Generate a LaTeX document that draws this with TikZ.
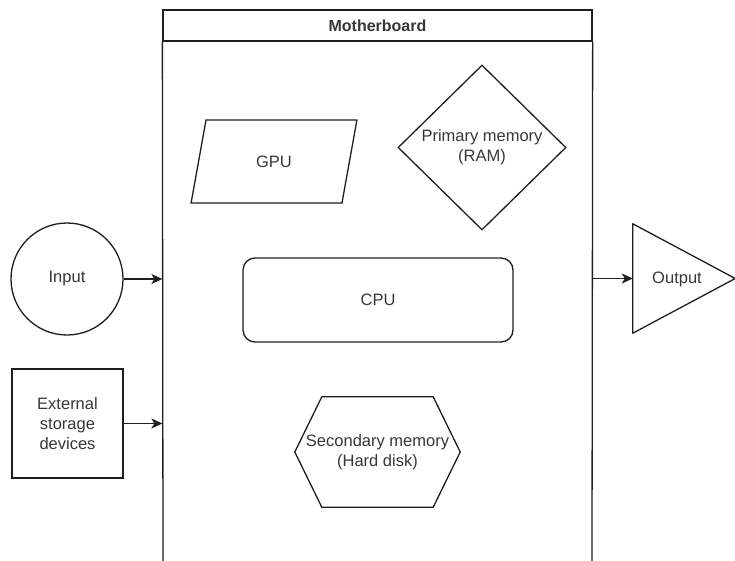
\documentclass[tikz,border=0pt]{standalone}
\usepackage{fontspec}
\setmainfont{Liberation Sans}
\usetikzlibrary{arrows.meta,positioning,shapes.geometric,calc}
\definecolor{linecolor}{RGB}{30,30,30}
\definecolor{txtcolor}{RGB}{55,55,55}
\tikzset{
  part/.style    = {draw=linecolor, line width=1.3pt, inner sep=0pt,
                    text=txtcolor, align=center,
                    font=\fontsize{16.5}{20}\selectfont},
  plain/.style   = {inner sep=0pt, text=txtcolor, align=center,
                    font=\fontsize{16.5}{20}\selectfont},
  outline/.style = {draw=linecolor, line width=1.3pt, line join=round},
  board/.style   = {part, minimum width=429, minimum height=31,
                    font=\bfseries\fontsize{16}{20}\selectfont},
  inbox/.style   = {part, circle, minimum size=112},
  storebox/.style= {part, rectangle, minimum width=111, minimum height=109},
  gpubox/.style  = {part, trapezium, trapezium stretches=true,
                    trapezium left angle=71.4, trapezium right angle=108.6,
                    minimum width=166, minimum height=83},
  rambox/.style  = {part, diamond, minimum width=168, minimum height=165},
  cpubox/.style  = {part, rectangle, rounded corners=12,
                    minimum width=270, minimum height=84},
  diskbox/.style = {plain, minimum width=165, minimum height=110},
  outbox/.style  = {plain, minimum width=102, minimum height=109},
  conn/.style    = {-{Stealth[length=11pt,width=10pt,inset=3pt]},
                    line width=1.3pt, draw=linecolor}
}

\begin{document}
\begin{tikzpicture}[x=1pt,y=-1pt]
\useasboundingbox (0,0) rectangle (735,561);

% motherboard frame (open at the bottom)
\node[board] (mb) at (377.5,25.5) {Motherboard};
\coordinate (mbbl) at (163,561);
\coordinate (mbbr) at (592,561);
\draw[outline] (mb.south west) -- (mbbl);
\draw[outline] (mb.south east) -- (mbbr);

% -------------------- Nodes --------------------

% outside the board
\node[inbox] (input) at (67,279) {Input};
\node[storebox] (store) at (67.5,423.5) {External\\storage\\devices};
\node[outbox] (output) at (684,278.5) {};
\draw[outline] (output.north west) -- (output.east) -- (output.south west) -- cycle;
\node[plain] (outtxt) at (677,279) {Output};

% on the board
\node[gpubox] (gpu) at (274,161.5) {GPU};
\node[rambox] (ram) at (482,147.5) {};
\node[plain] (ramtxt) at (ram.center) {Primary memory\\(RAM)};
\node[cpubox] (cpu) at (378,300) {CPU};
\node[diskbox] (disk) at (377.5,452) {Secondary memory\\(Hard disk)};
\draw[outline] (disk.west) -- ($(disk.north west)+(27,0)$)
  -- ($(disk.north east)+(-27,0)$) -- (disk.east)
  -- ($(disk.south east)+(-27,0)$) -- ($(disk.south west)+(27,0)$) -- cycle;

% -------------------- Connections --------------------
\draw[conn] (input.east) -- (input.east -| mb.west);
\draw[conn] (store.east) -- (store.east -| mb.west);
\draw[conn] (output.west -| mb.east) -- (output.west);

\end{tikzpicture}
\end{document}
